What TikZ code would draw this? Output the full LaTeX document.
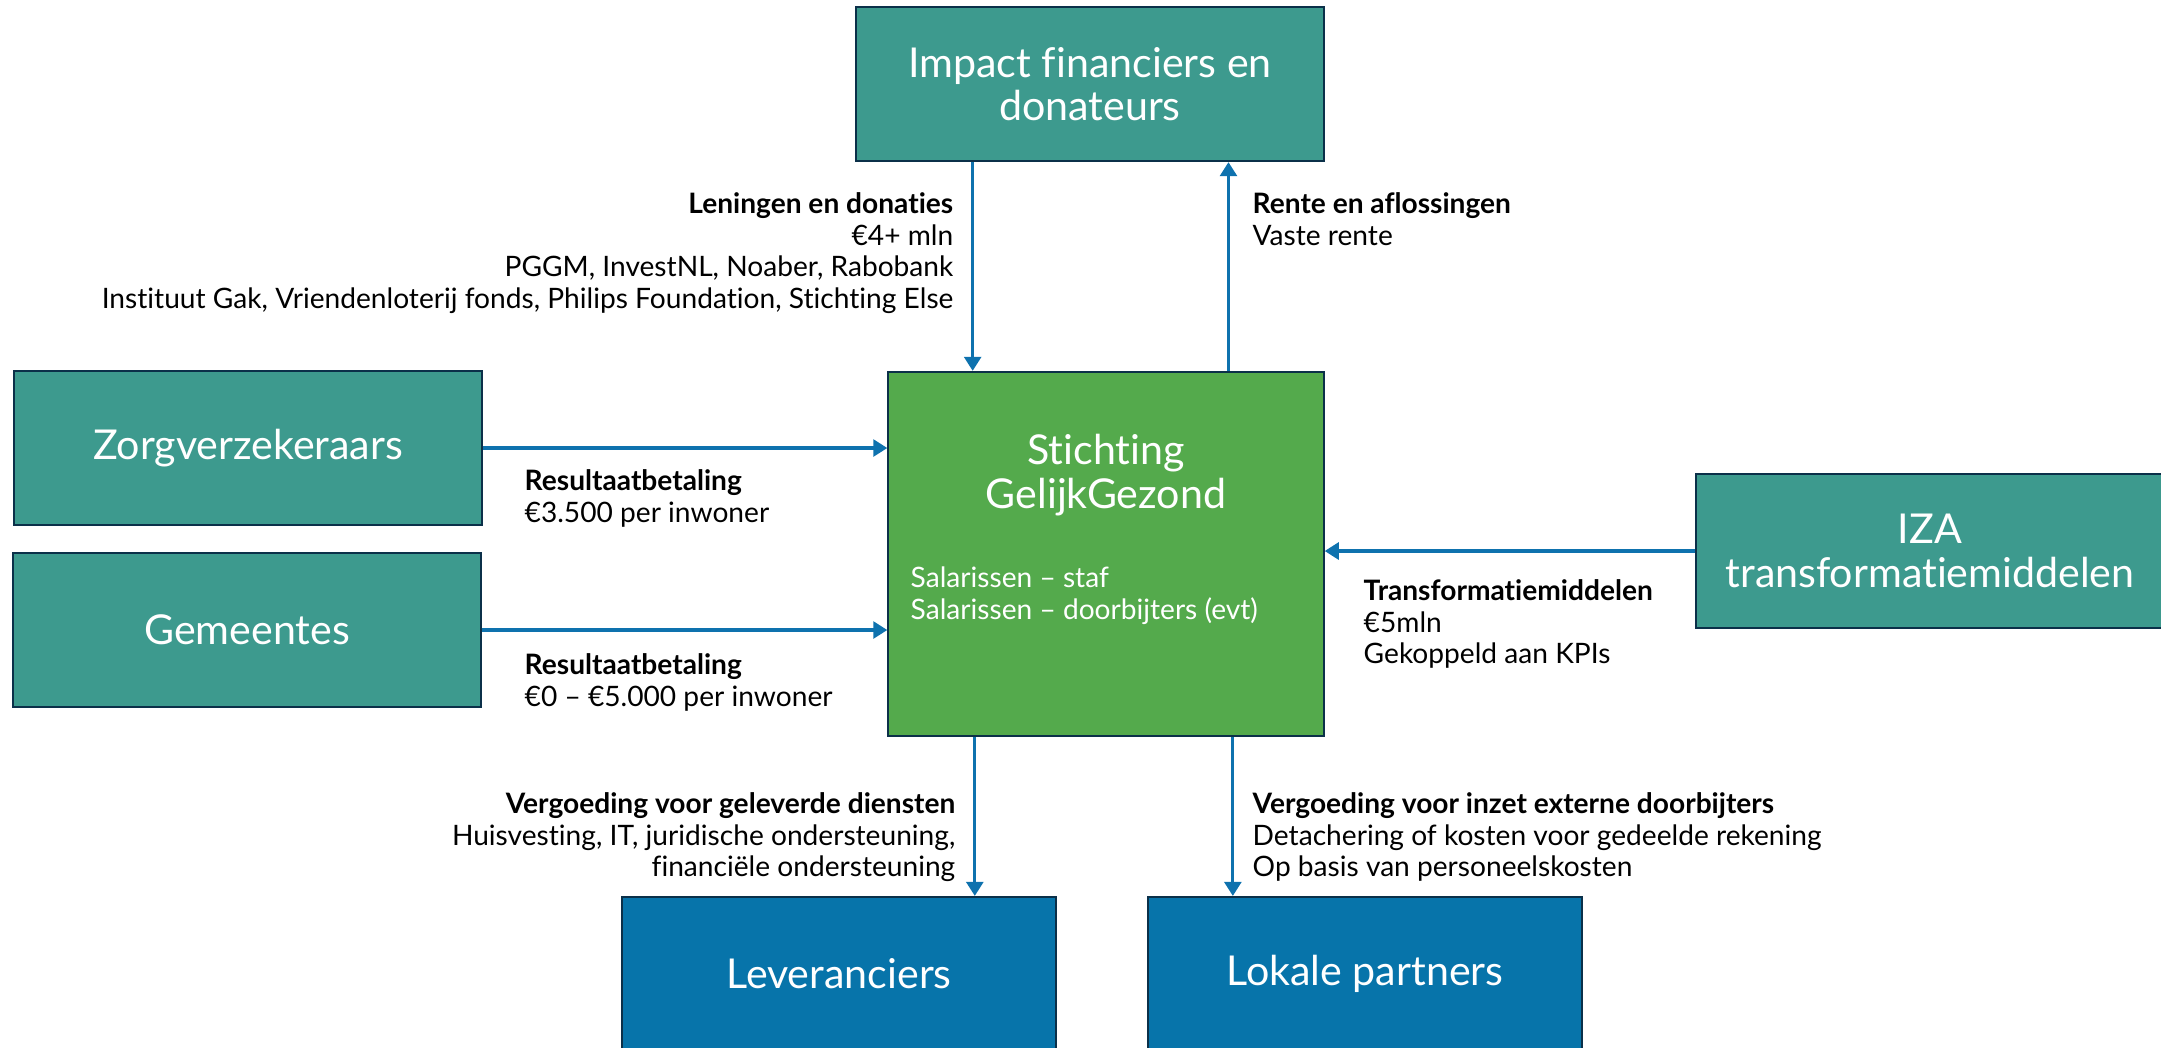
\documentclass[tikz,border=0pt]{standalone}
\usepackage{fontspec}
\setmainfont{Lato}[Ligatures=NoCommon]
\usepackage{xcolor}
\usetikzlibrary{arrows.meta,positioning,calc}

\definecolor{tealbox}{HTML}{3D9A8E}
\definecolor{greenbox}{HTML}{54AA4C}
\definecolor{bluebox}{HTML}{0774AA}
\definecolor{edgeline}{HTML}{0B3049}
\definecolor{flowline}{HTML}{0E72AE}

\begin{document}
\begin{tikzpicture}[
    x=0.01cm, y=-0.01cm,
    box/.style={rectangle, draw=edgeline, line width=0.6pt, fill=tealbox, text=white, align=center, minimum width=4.67cm, minimum height=1.54cm, inner sep=0pt, font=\fontsize{11.7}{12.3}\selectfont},
    partner/.style={box, fill=bluebox, minimum width=4.34cm},
    core/.style={box, fill=greenbox, minimum width=4.35cm, minimum height=3.64cm},
    flowlabel/.style={inner sep=0pt, font=\fontsize{8}{9}\selectfont},
    arrow/.style={-{Triangle[length=4pt, width=4.8pt]}, line width=0.9pt, flowline}
]
    \useasboundingbox (0,0) rectangle (2161,1047);

    % Funding parties
    \node[box] (impact) at (1090,84) {Impact financiers en\\donateurs};
    \node[box] (zorg) at (248,448) {Zorgverzekeraars};
    \node[box] (gemeentes) at (247,630) {Gemeentes};
    \node[box] (iza) at (1930,551) {IZA\\transformatiemiddelen};

    % Foundation
    \node[core] (stichting) at (1106,554) {};
    \node[text=white, inner sep=0pt, align=center, font=\fontsize{11.7}{12.3}\selectfont] (titel) at (1106,475) {Stichting\\GelijkGezond};
    \node[text=white, flowlabel, align=left, anchor=west] (salaris) at (910,596) {Salarissen -- staf\\Salarissen -- doorbijters (evt)};

    % Receiving parties
    \node[partner] (lever) at (839,974) {Leveranciers};
    \node[partner] (lokaal) at (1365,974) {Lokale partners};

    % Flow arrows
    \draw[arrow] ($(impact.south west)!0.25!(impact.south east)$) coordinate (lo) -- (lo |- stichting.north);
    \draw[arrow] ($(stichting.north west)!0.78!(stichting.north east)$) coordinate (ro) -- (ro |- impact.south);
    \draw[arrow] (zorg.east) -- (zorg.east -| stichting.west);
    \draw[arrow] (gemeentes.east) -- (gemeentes.east -| stichting.west);
    \draw[arrow] (iza.west) -- (iza.west -| stichting.east);
    \draw[arrow] ($(stichting.south west)!0.2!(stichting.south east)$) coordinate (lb) -- (lb |- lever.north);
    \draw[arrow] ($(stichting.south west)!0.79!(stichting.south east)$) coordinate (rb) -- (rb |- lokaal.north);

    % Flow annotations
    \node[flowlabel, align=right, anchor=north east] (lening) at (954,192) {\textbf{Leningen en donaties}\\€4+ mln\\PGGM, InvestNL, Noaber, Rabobank\\Instituut Gak, Vriendenloterij fonds, Philips Foundation, Stichting Else};
    \node[flowlabel, align=left, anchor=north west] (rente) at (1252,192) {\textbf{Rente en aflossingen}\\Vaste rente};
    \node[flowlabel, align=left, anchor=north west] (res1) at (524,469) {\textbf{Resultaatbetaling}\\€3.500 per inwoner};
    \node[flowlabel, align=left, anchor=north west] (res2) at (524,653) {\textbf{Resultaatbetaling}\\€0 – €5.000 per inwoner};
    \node[flowlabel, align=left, anchor=north west] (trans) at (1363,579) {\textbf{Transformatiemiddelen}\\€5mln\\Gekoppeld aan KPIs};
    \node[flowlabel, align=right, anchor=north east] (verg1) at (956,792) {\textbf{Vergoeding voor geleverde diensten}\\Huisvesting, IT, juridische ondersteuning,\\financiële ondersteuning};
    \node[flowlabel, align=left, anchor=north west] (verg2) at (1252,792) {\textbf{Vergoeding voor inzet externe doorbijters}\\Detachering of kosten voor gedeelde rekening\\Op basis van personeelskosten};
\end{tikzpicture}
\end{document}
